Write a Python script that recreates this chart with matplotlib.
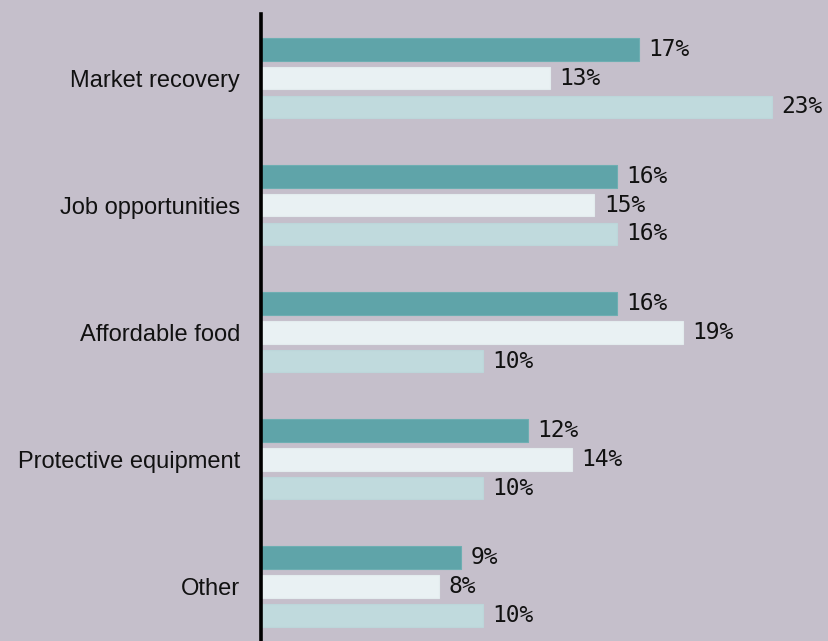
import numpy as np
import matplotlib
matplotlib.use("Agg")
import matplotlib.pyplot as plt

categories = ["Market recovery", "Job opportunities", "Affordable food",
              "Protective equipment", "Other"]
series_a = [17, 16, 16, 12, 9]
series_b = [13, 15, 19, 14, 8]
series_c = [23, 16, 10, 10, 10]

bg = "#c5bfcb"
colors = ["#5fa4a9", "#e9f1f3", "#c0dadd"]
edges = ["#6eaeb2", "#e3ecee", "#bcd6da"]

fig = plt.figure(figsize=(8.29, 6.41), dpi=100, facecolor=bg)
ax = fig.add_axes([261 / 829, 0, 1 - 261 / 829, 1 - 14 / 641])
ax.set_facecolor(bg)

y = np.arange(len(categories))
step = 0.227
h = 0.178
for i, vals in enumerate([series_a, series_b, series_c]):
    pos = y + (i - 1) * step
    ax.barh(pos, vals, height=h, left=0, color=colors[i],
            edgecolor=edges[i], linewidth=0.8)
    for p, v in zip(pos, vals):
        ax.text(v + 0.42, p, f"{v}%", va="center", ha="left",
                family="DejaVu Sans Mono", fontsize=16.5, color="#111111")

ax.set_xlim(0, 25.55)
ax.set_ylim(4.43, -0.504)
ax.set_yticks(y)
ax.set_yticklabels(categories, family="Liberation Sans", fontsize=17,
                   color="#111111")
ax.tick_params(axis="y", length=0, pad=15)
ax.set_xticks([])
for s in ["top", "right", "bottom"]:
    ax.spines[s].set_visible(False)
ax.spines["left"].set_linewidth(2.6)
ax.spines["left"].set_color("#000000")

fig.savefig("out.png", dpi=100, facecolor=bg)
